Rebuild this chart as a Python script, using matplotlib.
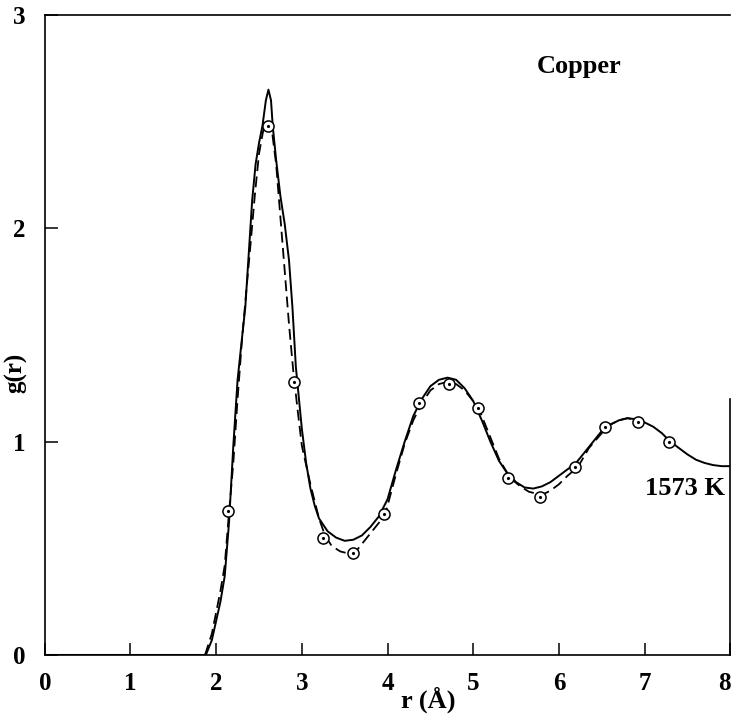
import matplotlib
matplotlib.use("Agg")
import matplotlib.pyplot as plt

# solid curve g(r)
r_solid = [0.0, 1.88, 1.95, 2.0, 2.05, 2.1, 2.15, 2.2, 2.25, 2.3, 2.34, 2.38, 2.42,
           2.46, 2.5, 2.54, 2.58, 2.61, 2.64, 2.66, 2.7, 2.75, 2.8, 2.85, 2.89, 2.93,
           3.0, 3.05, 3.1, 3.15, 3.2, 3.3, 3.4, 3.5, 3.6, 3.7, 3.8, 3.9, 4.0, 4.1,
           4.2, 4.3, 4.4, 4.5, 4.6, 4.7, 4.8, 4.9, 5.0, 5.1, 5.2, 5.3, 5.4, 5.5,
           5.6, 5.7, 5.8, 5.9, 6.0, 6.1, 6.2, 6.3, 6.4, 6.5, 6.6, 6.7, 6.8, 6.9,
           7.0, 7.1, 7.2, 7.3, 7.4, 7.5, 7.6, 7.7, 7.8, 7.9, 8.0]
g_solid = [0.0, 0.0, 0.07, 0.16, 0.25, 0.37, 0.62, 0.98, 1.29, 1.48, 1.63, 1.88, 2.13,
           2.3, 2.4, 2.48, 2.6, 2.65, 2.6, 2.48, 2.32, 2.15, 2.02, 1.85, 1.63, 1.35,
           1.06, 0.9, 0.78, 0.7, 0.64, 0.58, 0.55, 0.535, 0.54, 0.56, 0.6, 0.65, 0.73, 0.87,
           1.0, 1.12, 1.2, 1.26, 1.29, 1.3, 1.29, 1.25, 1.19, 1.1, 1.0, 0.91, 0.85, 0.81,
           0.785, 0.78, 0.79, 0.81, 0.84, 0.87, 0.9, 0.95, 1.0, 1.05, 1.08, 1.1, 1.11, 1.105,
           1.09, 1.07, 1.04, 1.0, 0.97, 0.94, 0.915, 0.9, 0.89, 0.885, 0.885]

# dashed curve
r_dash = [1.87, 1.95, 2.0, 2.05, 2.1, 2.14, 2.2, 2.25, 2.3, 2.35, 2.4, 2.45, 2.5,
          2.55, 2.6, 2.65, 2.7, 2.75, 2.8, 2.85, 2.9, 2.95, 3.0, 3.1, 3.2, 3.27,
          3.35, 3.45, 3.55, 3.62, 3.7, 3.8, 3.9, 3.98, 4.1, 4.2, 4.3, 4.4, 4.5,
          4.6, 4.7, 4.8, 4.9, 5.0, 5.08, 5.2, 5.3, 5.43, 5.55, 5.65, 5.8, 5.9,
          6.0, 6.1, 6.22, 6.35, 6.5, 6.6, 6.7, 6.8, 6.9]
g_dash = [0.0, 0.1, 0.2, 0.3, 0.42, 0.62, 0.9, 1.2, 1.47, 1.7, 1.92, 2.15, 2.35,
          2.46, 2.5, 2.46, 2.3, 2.05, 1.8, 1.55, 1.33, 1.15, 0.98, 0.8, 0.64, 0.56,
          0.51, 0.485, 0.475, 0.48, 0.52, 0.57, 0.62, 0.67, 0.85, 0.99, 1.1, 1.18, 1.24,
          1.27, 1.28, 1.27, 1.24, 1.19, 1.14, 1.02, 0.92, 0.83, 0.79, 0.765, 0.75, 0.77,
          0.8, 0.84, 0.88, 0.97, 1.04, 1.08, 1.1, 1.11, 1.1]

# open circles
r_pts = [2.14, 2.60, 2.91, 3.25, 3.60, 3.96, 4.37, 4.72, 5.05, 5.40, 5.78, 6.19, 6.54, 6.92, 7.29]
g_pts = [0.675, 2.48, 1.28, 0.55, 0.48, 0.66, 1.18, 1.27, 1.16, 0.83, 0.74, 0.88, 1.07, 1.09, 1.00]

x_ticks = [0, 1, 2, 3, 4, 5, 6, 7, 8]
y_ticks = [0, 1, 2, 3]

plt.rcParams['font.family'] = ['Liberation Serif', 'DejaVu Serif']
plt.rcParams['font.weight'] = 'bold'

fig = plt.figure(figsize=(7.34, 7.15), dpi=100)
ax = fig.add_axes([0.061, 0.084, 0.934, 0.895])

ax.plot(r_solid, g_solid, color='black', lw=1.4)
ax.plot(r_dash, g_dash, color='black', lw=1.3, dashes=(6, 3))
ax.plot(r_pts, g_pts, 'o', ms=8, mfc='white', mec='black', mew=1.1)
ax.plot(r_pts, g_pts, '.', ms=2.5, color='black')

ax.set_xlim(0, 8)
ax.set_ylim(0, 3)
ax.set_xticks(x_ticks)
ax.set_yticks(y_ticks)
ax.tick_params(axis='x', direction='in', length=9, width=1.1, labelsize=18, pad=12)
ax.tick_params(axis='y', direction='in', length=9, width=1.1, labelsize=18, pad=14)
for lab in ax.get_xticklabels() + ax.get_yticklabels():
    lab.set_fontweight('bold')
ax.get_xticklabels()[-1].set_ha('right')

for sp in ax.spines.values():
    sp.set_linewidth(1.2)
ax.spines['right'].set_bounds(0, 1.2)

ax.set_xlabel('r (Å)', fontsize=19, fontweight='bold')
ax.xaxis.set_label_coords(0.56, -0.05)
ax.xaxis.label.set_va('top')
ax.set_ylabel('g(r)', fontsize=18, fontweight='bold')
ax.yaxis.set_label_coords(-0.042, 0.44)
ax.yaxis.label.set_va('center')

ax.text(6.23, 2.76, 'Copper', fontsize=19, fontweight='bold', ha='center', va='center')
ax.text(7.47, 0.78, '1573 K', fontsize=19, fontweight='bold', ha='center', va='center')

fig.savefig('out.png', dpi=100)
